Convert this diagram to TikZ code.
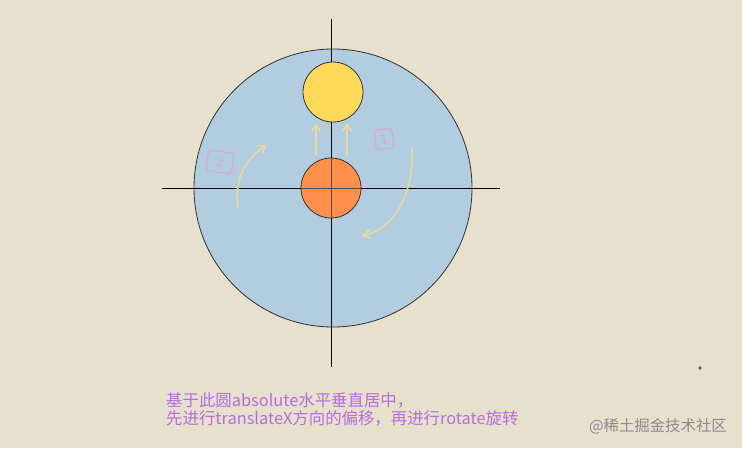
\documentclass[tikz,border=0pt]{standalone}
\usepackage{fontspec}
\newfontfamily\cjk{Noto Sans CJK SC}
\usetikzlibrary{arrows.meta}
\definecolor{paper}{HTML}{E6E0CC}
\definecolor{disc}{HTML}{B2CCE0}
\definecolor{sunorange}{HTML}{FF8F4A}
\definecolor{sunyellow}{HTML}{FFDA5A}
\definecolor{chalk}{HTML}{E4DA9E}
\definecolor{marker}{HTML}{E2A2DA}
\definecolor{note}{HTML}{B86EE2}
\tikzset{
  ball/.style={circle,draw=black!80,line width=0.8pt,inner sep=0pt},
  stroke/.style={chalk,line width=1.6pt,line cap=round,-{Straight Barb[length=7pt,width=9pt]}},
  tag/.style={draw=marker,text=marker,rounded corners=4pt,line width=1pt,font=\sffamily\fontsize{14}{14}\selectfont}
}
\begin{document}
\begin{tikzpicture}[x=1pt,y=-1pt]
\fill[paper] (0,0) rectangle (742,448);
\useasboundingbox (0,0) rectangle (742,448);
\node[ball,fill=disc,minimum size=278pt] (base) at (333,188) {};
% axes
\coordinate (top) at (331,19);
\coordinate (bottom) at (331,367);
\coordinate (left) at (162,188);
\coordinate (right) at (500,188);
\draw[line width=0.8pt] (top) -- (bottom);
\draw[line width=0.8pt] (left) -- (right);
\node[ball,fill=sunorange,minimum size=60pt] (start) at (331,188) {};
\draw[line width=0.8pt,black!70] (start.north) -- (start.south);
\draw[line width=0.8pt,black!70] (start.west) -- (start.east);
\node[ball,fill=sunyellow,minimum size=60pt] (moved) at (333,92) {};
% hand-drawn marks
\foreach \u in {316,347}{
  \coordinate (a\u) at (\u,155);
  \coordinate (b\u) at (\u,123);
  \draw[stroke] (a\u) -- (b\u);}
\coordinate (l0) at (238,207);
\coordinate (l1) at (267,145);
\draw[stroke] (l0) .. controls (234,178) and (246,158) .. (l1);
\coordinate (r0) at (412,148);
\coordinate (r1) at (362,236);
\draw[stroke] (r0) .. controls (414,192) and (396,228) .. (r1);
\node[tag,rotate=-8,minimum width=26pt,minimum height=21pt,inner sep=1pt] (two) at (220,162) {2};
\node[tag,rotate=8,minimum width=18pt,minimum height=20pt,inner sep=1pt] (one) at (384,139) {1};
% caption
\node[anchor=west,text=note,font=\cjk\fontsize{16.4}{18}\selectfont,align=left,inner sep=0pt] (caption) at (166,409)
  {基于此圆absolute水平垂直居中，\\先进行translateX方向的偏移，再进行rotate旋转};
\node[anchor=east,text=black!45,font=\cjk\fontsize{15.4}{18}\selectfont,inner sep=0pt] (mark) at (727,426) {@稀土掘金技术社区};
\fill[black!60] (700,368) circle (1.8pt);
\end{tikzpicture}
\end{document}
